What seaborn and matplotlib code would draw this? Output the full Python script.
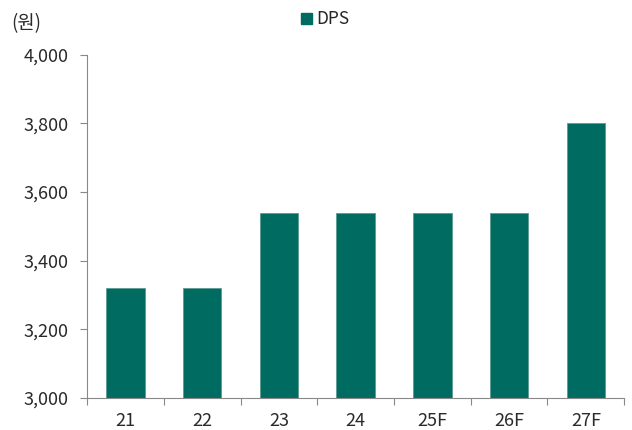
import matplotlib
matplotlib.use("Agg")
import matplotlib.pyplot as plt
import seaborn as sns
import pandas as pd
from matplotlib.patches import Patch
from matplotlib.ticker import FixedLocator

categories = ["21", "22", "23", "24", "25F", "26F", "27F"]
dps = [3320, 3320, 3540, 3540, 3540, 3540, 3800]
yticks = [3000, 3200, 3400, 3600, 3800, 4000]

sns.set_theme(style="white")
plt.rcParams['font.family'] = ['Noto Sans CJK KR', 'DejaVu Sans']

df = pd.DataFrame({"year": categories, "DPS": dps})
color = "#006B60"
txt = "#2a2a2a"

fig = plt.figure(figsize=(6.32, 4.30), dpi=100)
ax = fig.add_axes([0.1377, 0.0744, 0.850, 0.798])
sns.barplot(data=df, x="year", y="DPS", color=color, width=0.5, ax=ax,
            saturation=1, edgecolor="#5a9a92", linewidth=0.6)

ax.set_ylim(3000, 4000)
ax.set_xlim(-0.5, len(categories) - 0.5)
ax.set_yticks(yticks)
ax.set_yticklabels([f"{v:,}" for v in yticks], fontsize=13, color=txt, fontweight="light")
ax.set_xticks(range(len(categories)))
ax.set_xticklabels(categories, fontsize=13, color=txt, fontweight="light")
ax.set_xlabel("")
ax.set_ylabel("")
ax.tick_params(bottom=True, left=True, which="both")
ax.tick_params(axis="x", which="major", length=0, pad=10)
ax.xaxis.set_minor_locator(FixedLocator([i + 0.5 for i in range(-1, len(categories))]))
ax.tick_params(axis="x", which="minor", length=5, color="#888888", width=0.8, direction="out")
ax.tick_params(axis="y", which="major", length=5, color="#888888", width=0.8, direction="out", pad=8)

for s in ["top", "right"]:
    ax.spines[s].set_visible(False)
for s in ["left", "bottom"]:
    ax.spines[s].set_color("#888888")
    ax.spines[s].set_linewidth(0.8)

handle = Patch(facecolor=color, edgecolor=color, label="DPS")
fig.legend(handles=[handle], loc="center", bbox_to_anchor=(0.515, 0.955), frameon=False,
           prop={"size": 12.5, "weight": "light"}, handlelength=0.6, handleheight=0.6,
           handletextpad=0.3)

fig.text(0.018, 0.945, "(원)", fontsize=13.5, color=txt, ha="left", va="center",
         fontweight="light")

fig.savefig("out.png", dpi=100)
